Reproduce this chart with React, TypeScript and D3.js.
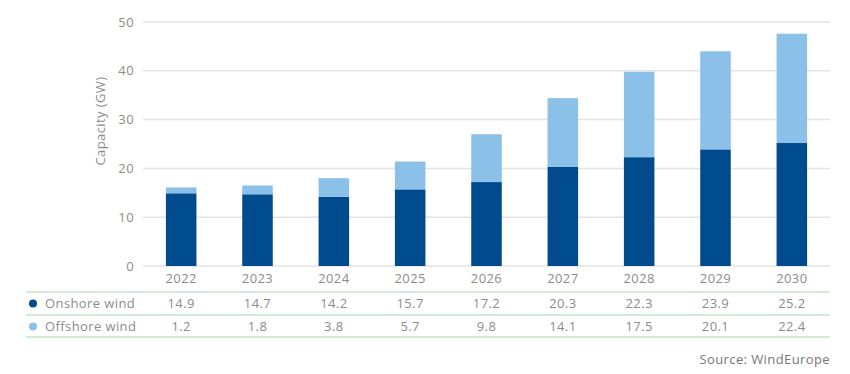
import React from "react";
import * as d3 from "d3";

const years = ["2022", "2023", "2024", "2025", "2026", "2027", "2028", "2029", "2030"];
const onshore = [14.9, 14.7, 14.2, 15.7, 17.2, 20.3, 22.3, 23.9, 25.2];
const offshore = [1.2, 1.8, 3.8, 5.7, 9.8, 14.1, 17.5, 20.1, 22.4];
const yTicks = [0, 10, 20, 30, 40, 50];
const seriesNames = ["Onshore wind", "Offshore wind"];
const seriesColors = ["#004b8d", "#8bc1e9"];

const W = 850;
const H = 374;
const left = 143;
const right = 830;
const top = 22;
const bottom = 266;
const font = "'Open Sans', sans-serif";
const textColor = "#8c8c8c";
const ls = 0.4;

export default function App() {
  const x = d3.scaleBand<string>().domain(years).range([left, right]).paddingInner(0.6).paddingOuter(0.3);
  const xc = d3.scaleBand<string>().domain(years).range([left, right]);
  const y = d3.scaleLinear().domain([0, 50]).range([bottom, top]);

  const data = years.map((yr, i) => ({ year: yr, onshore: onshore[i], offshore: offshore[i] }));
  const stack = d3.stack<any>().keys(["onshore", "offshore"])(data);

  const rowLines = [292, 315, 337];
  const rowText = [303.5, 326.5];
  const rows = [onshore, offshore];

  return (
    <svg width={W} height={H} style={{ position: "absolute", left: 0, top: 0, background: "#fff" }}>
      {yTicks.map((t) => (
        <g key={t}>
          <line x1={left} x2={right} y1={y(t)} y2={y(t)} stroke="#e3e3e3" strokeWidth={1.5} />
          <text x={134} y={y(t)} dy="0.35em" textAnchor="end" fontFamily={font} fontSize={13} letterSpacing={ls} fill={textColor}>
            {t}
          </text>
        </g>
      ))}
      <text
        transform={`translate(105,121) rotate(-90)`}
        textAnchor="middle"
        fontFamily={font}
        fontSize={13}
        letterSpacing={ls}
        fill={textColor}
      >
        Capacity (GW)
      </text>
      {stack.map((s, si) => (
        <g key={si}>
          {s.map((d, i) => (
            <rect
              key={i}
              x={(x(years[i]) as number)}
              width={x.bandwidth()}
              y={y(d[1])}
              height={y(d[0]) - y(d[1])}
              fill={seriesColors[si]}
            />
          ))}
        </g>
      ))}
      {years.map((yr) => (
        <text
          key={yr}
          x={(xc(yr) as number) + xc.bandwidth() / 2}
          y={278}
          dy="0.35em"
          textAnchor="middle"
          fontFamily={font}
          fontSize={13}
          letterSpacing={ls}
          fill={textColor}
        >
          {yr}
        </text>
      ))}
      {rowLines.map((ly, i) => (
        <line key={i} x1={26} x2={right} y1={ly} y2={ly} stroke="#c4e4cc" strokeWidth={1.5} />
      ))}
      {rows.map((vals, ri) => (
        <g key={ri}>
          <circle cx={33} cy={rowText[ri]} r={4} fill={seriesColors[ri]} />
          <text x={45} y={rowText[ri]} dy="0.35em" fontFamily={font} fontSize={13} letterSpacing={ls} fill={textColor}>
            {seriesNames[ri]}
          </text>
          {vals.map((v, i) => (
            <text
              key={i}
              x={(xc(years[i]) as number) + xc.bandwidth() / 2}
              y={rowText[ri]}
              dy="0.35em"
              textAnchor="middle"
              fontFamily={font}
              fontSize={13}
              letterSpacing={ls}
              fill={textColor}
            >
              {v.toFixed(1)}
            </text>
          ))}
        </g>
      ))}
      <text x={830} y={359} dy="0.35em" textAnchor="end" fontFamily={font} fontSize={13} letterSpacing={ls} fill="#777">
        Source: WindEurope
      </text>
    </svg>
  );
}
